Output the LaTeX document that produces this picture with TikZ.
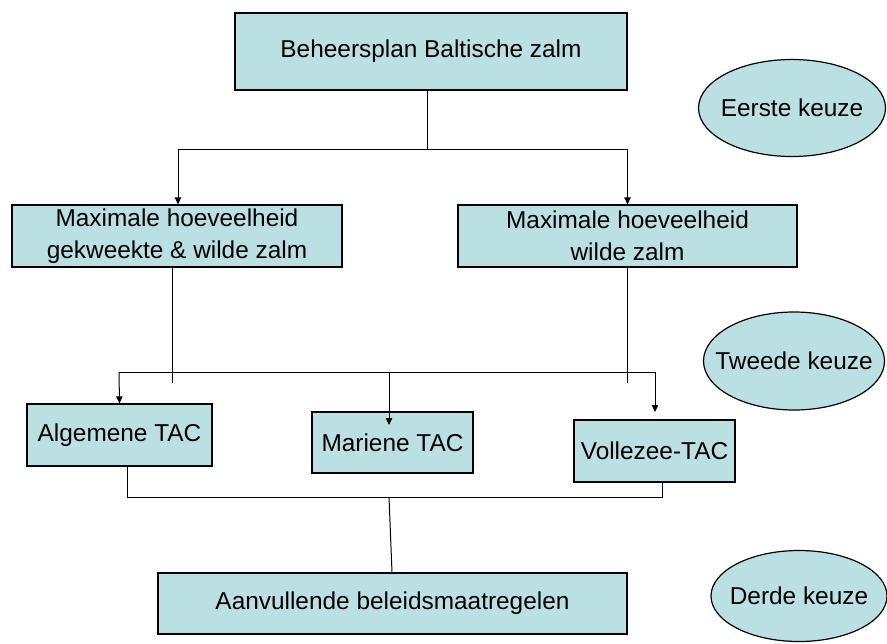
\documentclass[tikz,border=0pt]{standalone}
\usepackage{fontspec}
\setmainfont{Liberation Sans}
\usetikzlibrary{arrows.meta,shapes.geometric}
\definecolor{zalmfill}{HTML}{BBE0E3}
\newcommand{\smaltekst}[1]{\makebox[0pt]{#1}}
\tikzset{
	box/.style={draw=black,line width=0.6pt,fill=zalmfill,inner sep=0pt,align=center},
	keuze/.style={draw=black,line width=0.6pt,fill=zalmfill,ellipse,inner sep=0pt},
	pijl/.style={-{Triangle[length=3.5pt,width=3.2pt]}},
	lijn/.style={line width=0.5pt}
}
\begin{document}
\begin{tikzpicture}[x=0.5pt,y=-0.5pt,font=\fontsize{12.2}{16}\selectfont]
	\useasboundingbox (0,0) rectangle (887,643);
	%boxes
	\node[box,minimum width=196pt,minimum height=38.5pt] (plan) at (431,51.5) {Beheersplan Baltische zalm};
	\node[box,minimum width=165pt,minimum height=31pt] (gekweekt) at (177,236) {Maximale hoeveelheid\\gekweekte \& wilde zalm};
	\node[box,minimum width=169.5pt,minimum height=31pt] (wild) at (627.5,236) {Maximale hoeveelheid\\wilde zalm};
	\node[box,minimum width=92.5pt,minimum height=31pt] (algemeen) at (119.5,435) {Algemene TAC};
	\node[box,minimum width=80.5pt,minimum height=30.5pt] (marien) at (392.5,442.5) {Mariene TAC};
	\node[box,minimum width=80.5pt,minimum height=31pt] (vollezee) at (654.5,451) {Vollezee-TAC};
	\node[box,minimum width=234.5pt,minimum height=30.5pt] (aanvullend) at (392.5,603.5) {Aanvullende beleidsmaatregelen};
	%keuzes
	\node[keuze,minimum width=93.5pt,minimum height=48.5pt] (eerste) at (792,108) {\smaltekst{Eerste keuze}};
	\node[keuze,minimum width=90.5pt,minimum height=49pt] (tweede) at (794,361) {\smaltekst{Tweede keuze}};
	\node[keuze,minimum width=88pt,minimum height=45.5pt] (derde) at (799,596) {\smaltekst{Derde keuze}};
	%connectors
	\coordinate (split1) at (427,149);
	\draw[lijn] ([xshift=-2pt]plan.south) -- (split1);
	\draw[lijn,pijl] (split1) -| ([xshift=0.5pt]gekweekt.north);
	\draw[lijn,pijl] (split1) -| (wild.north);
	\coordinate (bar2l) at (119,372);
	\coordinate (bar2r) at (655,372);
	\coordinate (bar2m) at (389,372);
	\coordinate (tipmar) at (389,425);
	\coordinate (tipvol) at (655,412);
	\draw[lijn] ([xshift=-2.25pt]gekweekt.south) -- ++(0,115);
	\draw[lijn] (wild.south) -- ++(0,115);
	\draw[lijn] (bar2l) -- (bar2r);
	\draw[lijn,pijl] (bar2l) -- (algemeen.north);
	\draw[lijn,pijl] (bar2m) -- (tipmar);
	\draw[lijn,pijl] (bar2r) -- (tipvol);
	\coordinate (bar3) at (389,497);
	\draw[lijn] ([xshift=3.75pt]algemeen.south) |- (bar3) -| ([xshift=3.75pt]vollezee.south);
	\draw[lijn] (bar3) -- ([xshift=-0.25pt]aanvullend.north);
\end{tikzpicture}
\end{document}
